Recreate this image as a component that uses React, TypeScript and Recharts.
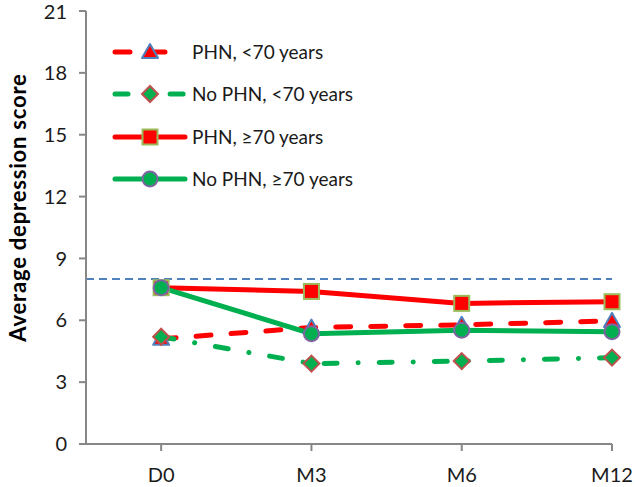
import React from "react";
import { LineChart, Line, XAxis, YAxis, ReferenceLine, Legend } from "recharts";

const categories = ["D0", "M3", "M6", "M12"];
const phnUnder70 = [5.1, 5.65, 5.78, 5.97];
const noPhnUnder70 = [5.2, 3.9, 4.02, 4.19];
const phnOver70 = [7.58, 7.4, 6.82, 6.9];
const noPhnOver70 = [7.58, 5.35, 5.52, 5.45];
const yTicks = [0, 3, 6, 9, 12, 15, 18, 21];
const thresholdValue = 8;
const seriesNames = ["PHN, <70 years", "No PHN, <70 years", "PHN, \u226570 years", "No PHN, \u226570 years"];

const data = categories.map((c, i) => ({
  x: i,
  cat: c,
  a: phnUnder70[i],
  b: noPhnUnder70[i],
  c: phnOver70[i],
  d: noPhnOver70[i],
}));

const RED = "#FF0000";
const GREEN = "#00B050";
const FONT = "Lato, 'DejaVu Sans', sans-serif";
const AXIS = "#878787";

const Tri = ({ cx, cy }: any) =>
  cx == null ? null : (
    <path d={`M${cx},${cy - 8} L${cx + 8},${cy + 6} L${cx - 8},${cy + 6} Z`} fill={RED} stroke="#4F81BD" strokeWidth={2} strokeLinejoin="round" />
  );
const Dia = ({ cx, cy }: any) =>
  cx == null ? null : (
    <path d={`M${cx},${cy - 8} L${cx + 8},${cy} L${cx},${cy + 8} L${cx - 8},${cy} Z`} fill={GREEN} stroke="#C0504D" strokeWidth={2} />
  );
const Sq = ({ cx, cy }: any) =>
  cx == null ? null : <rect x={cx - 7.5} y={cy - 7.5} width={15} height={15} fill={RED} stroke="#9BBB59" strokeWidth={2} />;
const Circ = ({ cx, cy }: any) =>
  cx == null ? null : <circle cx={cx} cy={cy} r={7.5} fill={GREEN} stroke="#8064A2" strokeWidth={2} />;

const legendRows = [
  { name: seriesNames[0], color: RED, dash: "15 20", Marker: Tri },
  { name: seriesNames[1], color: GREEN, dash: "13 21 0.1 21", Marker: Dia },
  { name: seriesNames[2], color: RED, dash: undefined, Marker: Sq },
  { name: seriesNames[3], color: GREEN, dash: undefined, Marker: Circ },
];

const LegendContent = () => (
  <div>
    {legendRows.map((r, i) => (
      <svg key={i} width={260} height={42.3} style={{ display: "block" }}>
        <line x1={3} x2={73} y1={21} y2={21} stroke={r.color} strokeWidth={5} strokeLinecap="round" strokeDasharray={r.dash} />
        <r.Marker cx={38} cy={21} />
        <text x={80} y={21} dy="0.36em" fontFamily={FONT} fontSize={19} fill="#1a1a1a">
          {r.name}
        </text>
      </svg>
    ))}
  </div>
);

export default function App() {
  return (
    <div style={{ position: "absolute", left: 0, top: 0, width: 636, height: 487, background: "#fff" }}>
      <LineChart width={636} height={487} data={data} margin={{ top: 11, right: 24, bottom: 3, left: 20 }}>
        <XAxis
          dataKey="x"
          type="number"
          domain={[-0.5, 3]}
          ticks={[0, 1, 2, 3]}
          tickFormatter={(v: number) => categories[v]}
          height={40}
          stroke={AXIS}
          strokeWidth={2}
          tickSize={7}
          tickMargin={17}
          tick={{ fill: "#1a1a1a", fontSize: 20, fontFamily: FONT }}
        />
        <YAxis
          type="number"
          domain={[0, 21]}
          ticks={yTicks}
          width={66}
          stroke={AXIS}
          strokeWidth={2}
          tickSize={7}
          tickMargin={12}
          tick={{ fill: "#1a1a1a", fontSize: 20, fontFamily: FONT }}
          label={{
            value: "Average  depression score",
            angle: -90,
            position: "insideLeft",
            offset: 0,
            dx: -2,
            dy: -20,
            style: { fontFamily: FONT, fontSize: 22, fontWeight: 700, fill: "#000", textAnchor: "middle", letterSpacing: 0.8 },
          }}
        />
        <ReferenceLine y={thresholdValue} stroke="#4F81BD" strokeWidth={2} strokeDasharray="8 5" />
        <Line dataKey="a" name={seriesNames[0]} stroke={RED} strokeWidth={5} strokeLinecap="round" strokeDasharray="15 20" dot={<Tri />} isAnimationActive={false} />
        <Line dataKey="b" name={seriesNames[1]} stroke={GREEN} strokeWidth={5} strokeLinecap="round" strokeDasharray="13 21 0.1 21" dot={<Dia />} isAnimationActive={false} />
        <Line dataKey="c" name={seriesNames[2]} stroke={RED} strokeWidth={5} dot={<Sq />} isAnimationActive={false} />
        <Line dataKey="d" name={seriesNames[3]} stroke={GREEN} strokeWidth={5} dot={<Circ />} isAnimationActive={false} />
        <Legend
          layout="vertical"
          align="center"
          verticalAlign="middle"
          content={<LegendContent />}
          wrapperStyle={{ left: 112, top: 31, width: 260, height: 170 }}
        />
      </LineChart>
    </div>
  );
}
